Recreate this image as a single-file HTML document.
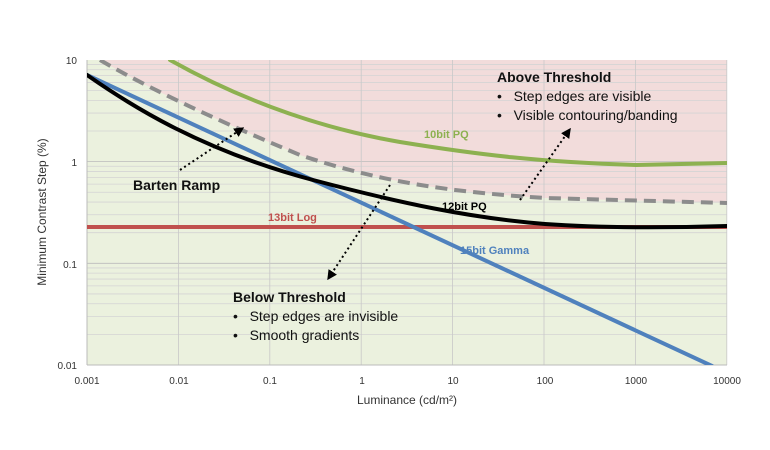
<!DOCTYPE html><html><head><style>body{margin:0;background:#fff}svg{display:block}text{font-family:"Liberation Sans",sans-serif}</style></head><body>
<svg width="770" height="450" viewBox="0 0 770 450" xmlns="http://www.w3.org/2000/svg">
<defs><clipPath id="c"><rect x="87" y="60" width="640" height="305"/></clipPath>
<marker id="ah" markerWidth="5" markerHeight="5" refX="2.5" refY="2.5" orient="auto"><path d="M0,0 L5,2.5 L0,5 z" fill="#000"/></marker></defs>
<g clip-path="url(#c)">
<rect x="87" y="60" width="640" height="305" fill="#ebf1de"/>
<path d="M87,52 L100,60 C160,95 240,130 300,155 C380,182 450,192 545,198 L727,203 L727,60 L87,60 z" fill="#f2dcdb"/>
<g stroke="#d4d4d4" stroke-width="0.8" id="g"></g>
</g>
<g id="v" stroke="#c8c8c8" stroke-width="0.8"></g>
<line x1="87" y1="60" x2="87" y2="365" stroke="#bbb"/>
<line x1="87" y1="365" x2="727" y2="365" stroke="#bbb"/>
<g clip-path="url(#c)" fill="none" stroke-linecap="round">
<line x1="87" y1="227" x2="727" y2="227" stroke="#c0504d" stroke-width="4"/>
<line x1="87" y1="75" x2="712" y2="366" stroke="#4f81bd" stroke-width="4"/>
<path d="M170,60 C250,105 330,130 400,142 C480,155 540,162 636,165 L727,163" stroke="#8db150" stroke-width="4"/>
<path d="M100,60 C160,95 240,130 300,155 C380,182 450,192 545,198 L727,203" stroke="#8c8c8c" stroke-width="4" stroke-dasharray="12,7" stroke-linecap="butt"/>
<path d="M87,75 C130,105 200,150 313,180 C400,203 470,218 545,224 C600,228 660,228 727,226" stroke="#000" stroke-width="4"/>
</g>
<g stroke="#000" stroke-width="2" stroke-dasharray="2,3" fill="none" marker-end="url(#ah)">
<line x1="180" y1="170" x2="240" y2="130"/>
<line x1="520" y1="200" x2="568" y2="132"/>
<line x1="390" y1="185" x2="330" y2="276"/>
</g>
<g font-size="11" fill="#333">
<text x="77" y="64" text-anchor="end" font-size="10">10</text>
<text x="77" y="166" text-anchor="end" font-size="10">1</text>
<text x="77" y="268" text-anchor="end" font-size="10">0.1</text>
<text x="77" y="369" text-anchor="end" font-size="10">0.01</text>
<g text-anchor="middle" font-size="10">
<text x="87" y="384">0.001</text><text x="179" y="384">0.01</text><text x="270" y="384">0.1</text><text x="362" y="384">1</text><text x="453" y="384">10</text><text x="545" y="384">100</text><text x="636" y="384">1000</text><text x="727" y="384">10000</text>
</g>
<text x="407" y="404" text-anchor="middle" font-size="12">Luminance (cd/m²)</text>
<text transform="translate(46,212) rotate(-90)" text-anchor="middle" font-size="12">Minimum Contrast Step (%)</text>
</g>
<g font-weight="bold" font-size="11">
<text x="424" y="138" fill="#8db150">10bit PQ</text>
<text x="442" y="210" fill="#000">12bit PQ</text>
<text x="268" y="221" fill="#c0504d">13bit Log</text>
<text x="460" y="254" fill="#4f81bd">15bit Gamma</text>
</g>
<g font-size="14" fill="#111">
<text x="133" y="190" font-weight="bold">Barten Ramp</text>
<text x="497" y="82" font-weight="bold">Above Threshold</text>
<text x="497" y="101">•&#160;&#160; Step edges are visible</text>
<text x="497" y="120">•&#160;&#160; Visible contouring/banding</text>
<text x="233" y="302" font-weight="bold">Below Threshold</text>
<text x="233" y="321">•&#160;&#160; Step edges are invisible</text>
<text x="233" y="340">•&#160;&#160; Smooth gradients</text>
</g>
<script>
var g=document.getElementById('g'),v=document.getElementById('v'),ns='http://www.w3.org/2000/svg';
for(var d=0;d<3;d++)for(var k=1;k<=9;k++){var y=365-101.7*(d+Math.log10(k));var l=document.createElementNS(ns,'line');l.setAttribute('x1',87);l.setAttribute('x2',727);l.setAttribute('y1',y);l.setAttribute('y2',y);if(k==1)l.setAttribute('stroke','#bbb');g.appendChild(l);}
for(var d=1;d<=7;d++){var x=87+91.4*d;var l=document.createElementNS(ns,'line');l.setAttribute('x1',x);l.setAttribute('x2',x);l.setAttribute('y1',60);l.setAttribute('y2',365);v.appendChild(l);}
</script>
</svg></body></html>
